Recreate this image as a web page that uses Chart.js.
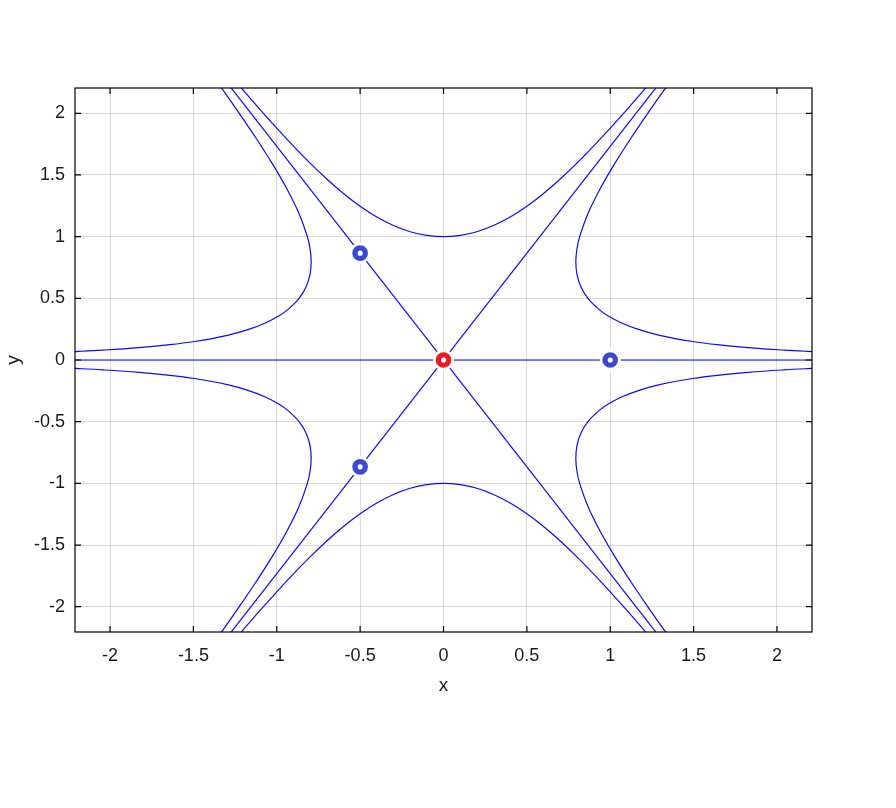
<!DOCTYPE html>
<html>
<head>
<meta charset="utf-8">
<script src="https://cdn.jsdelivr.net/npm/chart.js@4"></script>
<style>
  html, body { margin: 0; padding: 0; background: #fff; }
  #plot { display: block; }
</style>
</head>
<body>
<canvas id="plot" width="896" height="808"></canvas>
<script>
// tick values on both axes
const tickValues = [-2, -1.5, -1, -0.5, 0, 0.5, 1, 1.5, 2];

// upper / lower curves through (0, 1) and (0, -1)
const capX = [-1.3, -1.2, -1.1, -1.0, -0.9, -0.8, -0.7, -0.6, -0.5, -0.4, -0.3, -0.2, -0.1, 0,
              0.1, 0.2, 0.3, 0.4, 0.5, 0.6, 0.7, 0.8, 0.9, 1.0, 1.1, 1.2, 1.3];
const capYUp = [2.3445, 2.1858, 2.0304, 1.8794, 1.7340, 1.5958, 1.4669, 1.3495, 1.2460, 1.1588, 1.0898, 1.0400, 1.0100, 1.0000,
                1.0100, 1.0400, 1.0898, 1.1588, 1.2460, 1.3495, 1.4669, 1.5958, 1.7340, 1.8794, 2.0304, 2.1858, 2.3445];
const capYDown = [-2.3445, -2.1858, -2.0304, -1.8794, -1.7340, -1.5958, -1.4669, -1.3495, -1.2460, -1.1588, -1.0898, -1.0400, -1.0100, -1.0000,
                  -1.0100, -1.0400, -1.0898, -1.1588, -1.2460, -1.3495, -1.4669, -1.5958, -1.7340, -1.8794, -2.0304, -2.1858, -2.3445];

// side curves (right and left branches)
const sideXRight = [2.3573, 2.1826, 2.0418, 1.8267, 1.6681, 1.4932, 1.2961, 1.1637, 1.0682, 0.9966, 0.9416, 0.8660,
                    0.8219, 0.7997, 0.7937, 0.8002, 0.8165, 0.8705, 0.9442, 1.0304, 1.1248, 1.2247, 1.3285, 1.4349];
const sideXLeft = [-2.3573, -2.1826, -2.0418, -1.8267, -1.6681, -1.4932, -1.2961, -1.1637, -1.0682, -0.9966, -0.9416, -0.8660,
                   -0.8219, -0.7997, -0.7937, -0.8002, -0.8165, -0.8705, -0.9442, -1.0304, -1.1248, -1.2247, -1.3285, -1.4349];
const sideYUp = [0.06, 0.07, 0.08, 0.10, 0.12, 0.15, 0.20, 0.25, 0.30, 0.35, 0.40, 0.50,
                 0.60, 0.70, 0.80, 0.90, 1.00, 1.20, 1.40, 1.60, 1.80, 2.00, 2.20, 2.40];
const sideYDown = [-0.06, -0.07, -0.08, -0.10, -0.12, -0.15, -0.20, -0.25, -0.30, -0.35, -0.40, -0.50,
                   -0.60, -0.70, -0.80, -0.90, -1.00, -1.20, -1.40, -1.60, -1.80, -2.00, -2.20, -2.40];

// straight lines through the origin
const axisLineX = [-2.5, 2.5];
const axisLineY = [0, 0];
const diagX = [-1.5, 1.5];
const diagUpY = [-2.598, 2.598];
const diagDownY = [2.598, -2.598];

// marked points
const rootsX = [1, -0.5, -0.5];
const rootsY = [0, 0.866, -0.866];
const originX = [0];
const originY = [0];

const toPoints = (xs, ys) => xs.map((x, i) => ({ x, y: ys[i] }));

const LINE_BLUE = "#0a0aff";
const curve = (xs, ys) => ({
  data: toPoints(xs, ys),
  showLine: true,
  borderColor: LINE_BLUE,
  borderWidth: 1.2,
  pointRadius: 0,
  tension: 0.4,
  capBezierPoints: false,
  order: 10
});

const datasets = [
  curve(capX, capYUp),
  curve(capX, capYDown),
  curve(sideXRight, sideYUp),
  curve(sideXRight, sideYDown),
  curve(sideXLeft, sideYUp),
  curve(sideXLeft, sideYDown),
  { ...curve(axisLineX, axisLineY), tension: 0 },
  { ...curve(diagX, diagUpY), tension: 0 },
  { ...curve(diagX, diagDownY), tension: 0 },
  // white halos behind the markers
  {
    data: toPoints([...rootsX, ...originX], [...rootsY, ...originY]),
    pointRadius: 10.5, pointBackgroundColor: "#fff", pointBorderWidth: 0,
    showLine: false, order: 5
  },
  {
    data: toPoints(rootsX, rootsY),
    pointRadius: 5.2, pointBorderWidth: 5.3, pointBorderColor: "#3f48cc",
    pointBackgroundColor: "#fff", showLine: false, order: 1
  },
  {
    data: toPoints(originX, originY),
    pointRadius: 5.2, pointBorderWidth: 5.3, pointBorderColor: "#ec1c24",
    pointBackgroundColor: "#fff", showLine: false, order: 1
  }
];

// box round the plot and inward tick marks
const frame = {
  id: "frame",
  afterDatasetsDraw(chart) {
    const { ctx, chartArea: a, scales } = chart;
    ctx.save();
    ctx.strokeStyle = "#000";
    ctx.lineWidth = 1.2;
    ctx.strokeRect(a.left, a.top, a.right - a.left, a.bottom - a.top);
    ctx.beginPath();
    tickValues.forEach(v => {
      const px = scales.x.getPixelForValue(v);
      ctx.moveTo(px, a.bottom); ctx.lineTo(px, a.bottom - 6);
      ctx.moveTo(px, a.top); ctx.lineTo(px, a.top + 6);
      const py = scales.y.getPixelForValue(v);
      ctx.moveTo(a.left, py); ctx.lineTo(a.left + 6, py);
      ctx.moveTo(a.right, py); ctx.lineTo(a.right - 6, py);
    });
    ctx.stroke();
    ctx.restore();
  }
};

const tickFont = { family: "Arial, 'Liberation Sans', sans-serif", size: 18 };
const titleFont = { family: "Arial, 'Liberation Sans', sans-serif", size: 19 };
const fmt = v => String(v);

new Chart(document.getElementById("plot"), {
  type: "scatter",
  data: { datasets },
  options: {
    responsive: false,
    animation: false,
    events: [],
    layout: { padding: { top: 88, right: 84, left: 0, bottom: 111 } },
    plugins: { legend: { display: false }, tooltip: { enabled: false } },
    scales: {
      x: {
        type: "linear", min: -2.21, max: 2.21,
        afterBuildTicks: s => { s.ticks = tickValues.map(value => ({ value })); },
        afterFit: s => { s.height = 65; },
        grid: { color: "rgba(0,0,0,0.14)", drawTicks: false },
        border: { display: false },
        ticks: { color: "#1a1a1a", font: tickFont, padding: 13, maxRotation: 0, callback: fmt },
        title: { display: true, text: "x", color: "#1a1a1a", font: titleFont, padding: { top: 0, bottom: 0 } }
      },
      y: {
        type: "linear", min: -2.205, max: 2.205,
        afterBuildTicks: s => { s.ticks = tickValues.map(value => ({ value })); },
        afterFit: s => { s.width = 75; },
        grid: { color: "rgba(0,0,0,0.14)", drawTicks: false },
        border: { display: false },
        ticks: { color: "#1a1a1a", font: tickFont, padding: 10, callback: fmt },
        title: { display: true, text: "y", color: "#1a1a1a", font: titleFont, padding: { top: 2, bottom: 0 } }
      }
    }
  },
  plugins: [frame]
});
</script>
</body>
</html>
